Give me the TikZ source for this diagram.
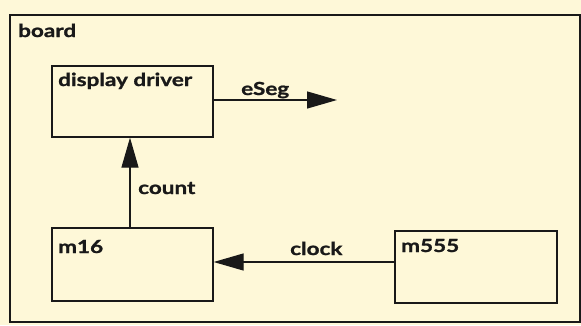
\documentclass[tikz,border=0pt]{standalone}
\usepackage{fontspec}
\setmainfont{Lato}[BoldFeatures={FakeStretch=1.25,FakeBold=1.2}]
\usetikzlibrary{arrows.meta}
\definecolor{bgcream}{RGB}{254,248,216}
\definecolor{ink}{RGB}{25,25,25}
\begin{document}
\begin{tikzpicture}[x=1pt,y=-1pt,
  lbl/.style={anchor=base west, inner sep=0pt, text=ink, font=\fontsize{18}{21}\selectfont\bfseries},
  blockbox/.style={draw=ink, line width=1.3pt, rectangle, inner sep=0pt},
  conn/.style={draw=ink, line width=1.3pt, -{Triangle[length=30pt,width=17pt]}}]
\useasboundingbox (0,0) rectangle (581,325);
\fill[bgcream] (0,0) rectangle (581,325);
\draw[ink, line width=1.3pt] (10,15) rectangle (580,322);
\node[lbl] (boardlbl) at (18,37) {board};
\node[blockbox, minimum width=161pt, minimum height=71pt] (dd) at (132.5,101.5) {};
\node[blockbox, minimum width=161pt, minimum height=73pt] (m16) at (132.5,264.5) {};
\node[blockbox, minimum width=162pt, minimum height=72pt] (m555) at (476,267) {};
\node[lbl] (ddlbl) at (58,86) {display driver};
\node[lbl] (m16lbl) at (58,253) {m16};
\node[lbl] (m555lbl) at (401,252) {m555};
\coordinate (eSegEnd) at (337,100);
\coordinate (clky) at (0,262);
\coordinate (cntx) at (130,0);
\draw[conn] (dd.east |- eSegEnd) -- (eSegEnd);
\draw[conn] (m16.north -| cntx) -- (dd.south -| cntx);
\draw[conn] (m555.west |- clky) -- (m16.east |- clky);
\node[lbl] (eseglbl) at (241,95) {eSeg};
\node[lbl] (countlbl) at (138,194) {count};
\node[lbl] (clocklbl) at (290,255) {clock};
\end{tikzpicture}
\end{document}
